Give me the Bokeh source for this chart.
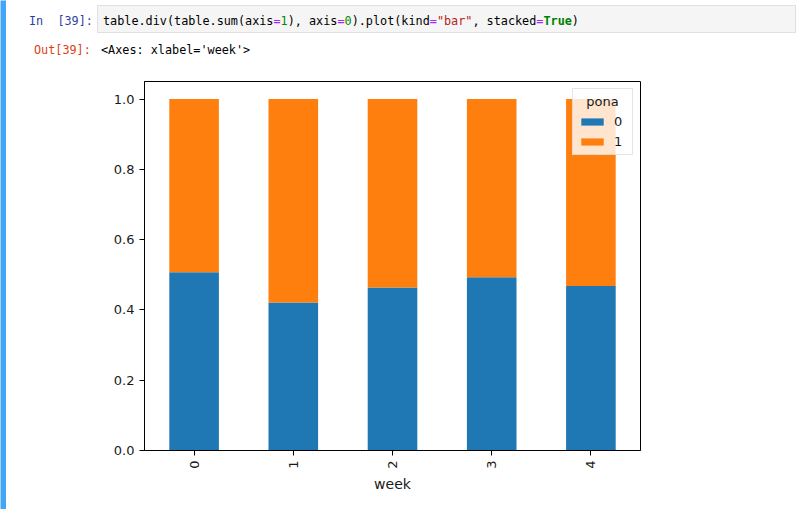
import math
from bokeh.plotting import figure
from bokeh.layouts import row, column
from bokeh.models import ColumnDataSource, Range1d, FixedTicker, NumeralTickFormatter, Div
from bokeh.embed import file_html
from bokeh.resources import INLINE

# ---- data ----
weeks = [0, 1, 2, 3, 4]
week_labels = ["0", "1", "2", "3", "4"]
pona0 = [0.507, 0.421, 0.464, 0.493, 0.468]
pona1 = [0.493, 0.579, 0.536, 0.507, 0.532]
series_names = ["0", "1"]
colors = ["#1f77b4", "#ff7f0e"]
y_ticks = [0.0, 0.2, 0.4, 0.6, 0.8, 1.0]

FONT = "DejaVu Sans"
MONO = "DejaVu Sans Mono"
STRIP = 6
HEAD_H = 62

# ---- chart ----
src = ColumnDataSource(dict(week=weeks, s0=pona0, s1=pona1))

p = figure(width=796 - STRIP, height=509 - HEAD_H, output_backend="svg", toolbar_location=None,
           x_range=Range1d(-0.5, 4.5), y_range=Range1d(0, 1.05),
           min_border_left=144 - STRIP, min_border_right=156,
           min_border_top=81 - HEAD_H, min_border_bottom=59)

p.vbar_stack(["s0", "s1"], x="week", width=0.5, source=src, fill_color=colors,
             line_color=None, legend_label=series_names)

p.grid.visible = False
p.background_fill_color = "white"
p.border_fill_color = "white"
p.outline_line_color = "black"
p.outline_line_width = 1
p.outline_line_alpha = 1

for ax in (p.xaxis[0], p.yaxis[0]):
    ax.axis_line_color = "black"
    ax.major_tick_line_color = "black"
    ax.major_tick_out = 5
    ax.major_tick_in = 0
    ax.minor_tick_line_color = None
    ax.major_label_text_font = FONT
    ax.major_label_text_font_size = "13px"
    ax.major_label_text_color = "#1a1a1a"
    ax.major_label_standoff = 5
    ax.axis_label_text_font = FONT
    ax.axis_label_text_font_size = "14px"
    ax.axis_label_text_font_style = "normal"
    ax.axis_label_text_color = "#1a1a1a"

p.xaxis.ticker = FixedTicker(ticks=weeks)
p.xaxis.major_label_overrides = {w: l for w, l in zip(weeks, week_labels)}
p.xaxis.major_label_orientation = math.pi / 2
p.xaxis.axis_label = "week"
p.xaxis.axis_label_standoff = 4
p.xaxis.major_label_standoff = 5

p.yaxis.ticker = FixedTicker(ticks=y_ticks)
p.yaxis.formatter = NumeralTickFormatter(format="0.0")

lg = p.legend[0]
lg.title = "\u00a0\u00a0pona"
lg.title_text_font = FONT
lg.title_text_font_size = "13px"
lg.title_text_font_style = "normal"
lg.title_text_color = "#1a1a1a"
lg.title_standoff = 4
lg.label_text_font = FONT
lg.label_text_font_size = "13px"
lg.label_text_color = "#1a1a1a"
lg.location = "top_right"
lg.margin = 7
lg.padding = 5
lg.spacing = 4
lg.glyph_width = 28
lg.glyph_height = 9
lg.label_height = 16
lg.label_width = 13
lg.label_standoff = 8
lg.border_line_color = "#cccccc"
lg.background_fill_alpha = 0.8

# ---- notebook chrome ----
strip = figure(width=STRIP, height=509, output_backend="svg", toolbar_location=None,
               x_range=Range1d(0, 1), y_range=Range1d(0, 1),
               min_border=0, min_border_left=0, min_border_right=0,
               min_border_top=0, min_border_bottom=0)
strip.axis.visible = False
strip.grid.visible = False
strip.outline_line_color = None
strip.background_fill_color = "#42A5F5"
strip.border_fill_color = "#42A5F5"

code_html = (
    'table.div(table.sum(axis<span style="color:#AA22FF">=</span>'
    '<span style="color:#008800">1</span>), axis<span style="color:#AA22FF">=</span>'
    '<span style="color:#008800">0</span>).plot(kind<span style="color:#AA22FF">=</span>'
    '<span style="color:#BA2121">"bar"</span>, stacked<span style="color:#AA22FF">=</span>'
    '<span style="color:#008000;font-weight:bold">True</span>)'
)
head_html = f"""
<div style="position:relative;width:{796 - STRIP}px;height:{HEAD_H}px;background:white;
 font-family:'{MONO}',monospace;font-size:11.8px;line-height:14px;white-space:pre;color:#000;">
 <div style="position:absolute;left:{97 - STRIP}px;top:5px;width:{796 - 97}px;height:28px;
  background:#f5f5f5;border:1px solid #e0e0e0;box-sizing:border-box;"></div>
 <span style="position:absolute;left:{29 - STRIP}px;top:14px;color:#303F9F;">In&nbsp;&nbsp;[39]:</span>
 <span style="position:absolute;left:{103 - STRIP}px;top:14px;">{code_html}</span>
 <span style="position:absolute;left:{34 - STRIP}px;top:43px;color:#D84315;">Out[39]:</span>
 <span style="position:absolute;left:{101 - STRIP}px;top:43px;">&lt;Axes: xlabel='week'&gt;</span>
</div>
"""
head = Div(text=head_html, width=796 - STRIP, height=HEAD_H, margin=(0, 0, 0, 0))

layout = row(strip, column(head, p, spacing=0), spacing=0)
open("out.html", "w").write(file_html(layout, INLINE))
